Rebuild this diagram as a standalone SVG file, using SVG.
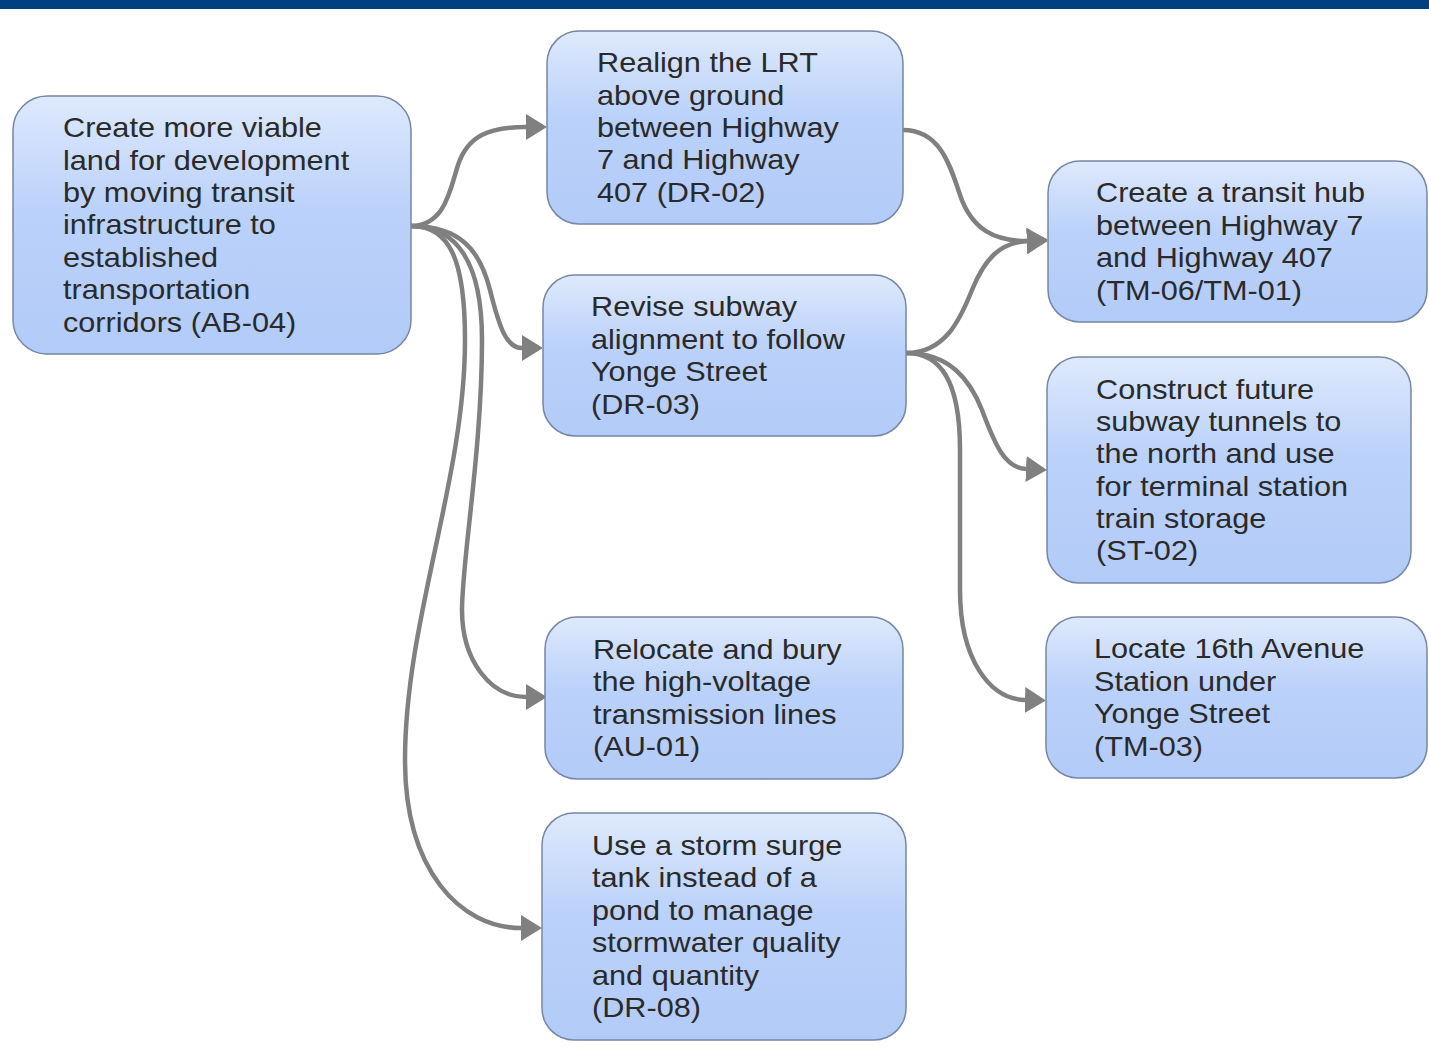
<svg xmlns="http://www.w3.org/2000/svg" width="1429" height="1050" viewBox="0 0 1429 1050">
<style>
.node rect{fill:url(#g);stroke:#7786a3;stroke-width:1.5}
.node text{font-family:"Liberation Sans",Arial,sans-serif;font-size:27px;fill:#2a2a2a}
.edges path{fill:none;stroke:#808080;stroke-width:4.5;marker-end:url(#arr)}
</style>
<defs>
<linearGradient id="g" x1="0" y1="0" x2="0" y2="1">
<stop offset="0" stop-color="#dee9fc"/>
<stop offset="0.45" stop-color="#bad1fa"/>
<stop offset="1" stop-color="#b3cbf8"/>
</linearGradient>
<marker id="arr" markerUnits="userSpaceOnUse" markerWidth="24" markerHeight="28" refX="0" refY="13" orient="auto">
<path d="M0,0 L21,13 L0,26 z" fill="#808080"/>
</marker>
</defs>
<rect x="0" y="0" width="1429" height="9" fill="#02417f"/>
<g class="edges" id="connectors">
<path d="M411,226 C445,226 450,190 458,165 C468,135 490,127 526,127"/>
<path d="M411,226 C460,226 480,250 490,290 C500,330 507,348 522,348"/>
<path d="M411,226 C455,226 482,260 482,340 C482,450 462,560 462,610 C462,660 490,697 526,697"/>
<path d="M411,226 C450,226 465,260 465,340 C465,480 405,620 405,760 C405,870 460,928 521,928"/>
<path d="M903,130 C940,130 950,165 960,195 C972,230 995,241 1027,241"/>
<path d="M906,353 C945,353 960,320 972,290 C985,258 1000,243 1027,241"/>
<path d="M906,353 C950,353 970,380 982,410 C995,445 1005,468 1026,469"/>
<path d="M906,353 C940,353 960,380 960,450 L960,590 C960,660 990,699 1025,700"/>
</g>
<g class="node" id="AB-04">
<rect x="13" y="96" width="398" height="258" rx="34"/>
<text transform="translate(63,137.3) scale(1.135,1)"><tspan x="0" y="0">Create more viable</tspan><tspan x="0" y="32.4">land for development</tspan><tspan x="0" y="64.8">by moving transit</tspan><tspan x="0" y="97.2">infrastructure to</tspan><tspan x="0" y="129.6">established</tspan><tspan x="0" y="162">transportation</tspan><tspan x="0" y="194.4">corridors (AB-04)</tspan></text>
</g>
<g class="node" id="DR-02">
<rect x="547" y="31" width="356" height="193" rx="32"/>
<text transform="translate(597,72.2) scale(1.135,1)"><tspan x="0" y="0">Realign the LRT</tspan><tspan x="0" y="32.4">above ground</tspan><tspan x="0" y="64.8">between Highway</tspan><tspan x="0" y="97.2">7 and Highway</tspan><tspan x="0" y="129.6">407 (DR-02)</tspan></text>
</g>
<g class="node" id="DR-03">
<rect x="543" y="275" width="363" height="161" rx="32"/>
<text transform="translate(591,316.4) scale(1.135,1)"><tspan x="0" y="0">Revise subway</tspan><tspan x="0" y="32.4">alignment to follow</tspan><tspan x="0" y="64.8">Yonge Street</tspan><tspan x="0" y="97.2">(DR-03)</tspan></text>
</g>
<g class="node" id="TM-06">
<rect x="1048" y="161" width="379" height="161" rx="32"/>
<text transform="translate(1096,202.4) scale(1.135,1)"><tspan x="0" y="0">Create a transit hub</tspan><tspan x="0" y="32.4">between Highway 7</tspan><tspan x="0" y="64.8">and Highway 407</tspan><tspan x="0" y="97.2">(TM-06/TM-01)</tspan></text>
</g>
<g class="node" id="ST-02">
<rect x="1047" y="357" width="364" height="226" rx="32"/>
<text transform="translate(1096,398.5) scale(1.135,1)"><tspan x="0" y="0">Construct future</tspan><tspan x="0" y="32.4">subway tunnels to</tspan><tspan x="0" y="64.8">the north and use</tspan><tspan x="0" y="97.2">for terminal station</tspan><tspan x="0" y="129.6">train storage</tspan><tspan x="0" y="162">(ST-02)</tspan></text>
</g>
<g class="node" id="AU-01">
<rect x="545" y="617" width="358" height="162" rx="32"/>
<text transform="translate(593,658.9) scale(1.135,1)"><tspan x="0" y="0">Relocate and bury</tspan><tspan x="0" y="32.4">the high-voltage</tspan><tspan x="0" y="64.8">transmission lines</tspan><tspan x="0" y="97.2">(AU-01)</tspan></text>
</g>
<g class="node" id="TM-03">
<rect x="1046" y="617" width="381" height="161" rx="32"/>
<text transform="translate(1094,658.4) scale(1.135,1)"><tspan x="0" y="0">Locate 16th Avenue</tspan><tspan x="0" y="32.4">Station under</tspan><tspan x="0" y="64.8">Yonge Street</tspan><tspan x="0" y="97.2">(TM-03)</tspan></text>
</g>
<g class="node" id="DR-08">
<rect x="542" y="813" width="364" height="227" rx="32"/>
<text transform="translate(592,855) scale(1.135,1)"><tspan x="0" y="0">Use a storm surge</tspan><tspan x="0" y="32.4">tank instead of a</tspan><tspan x="0" y="64.8">pond to manage</tspan><tspan x="0" y="97.2">stormwater quality</tspan><tspan x="0" y="129.6">and quantity</tspan><tspan x="0" y="162">(DR-08)</tspan></text>
</g>
</svg>
